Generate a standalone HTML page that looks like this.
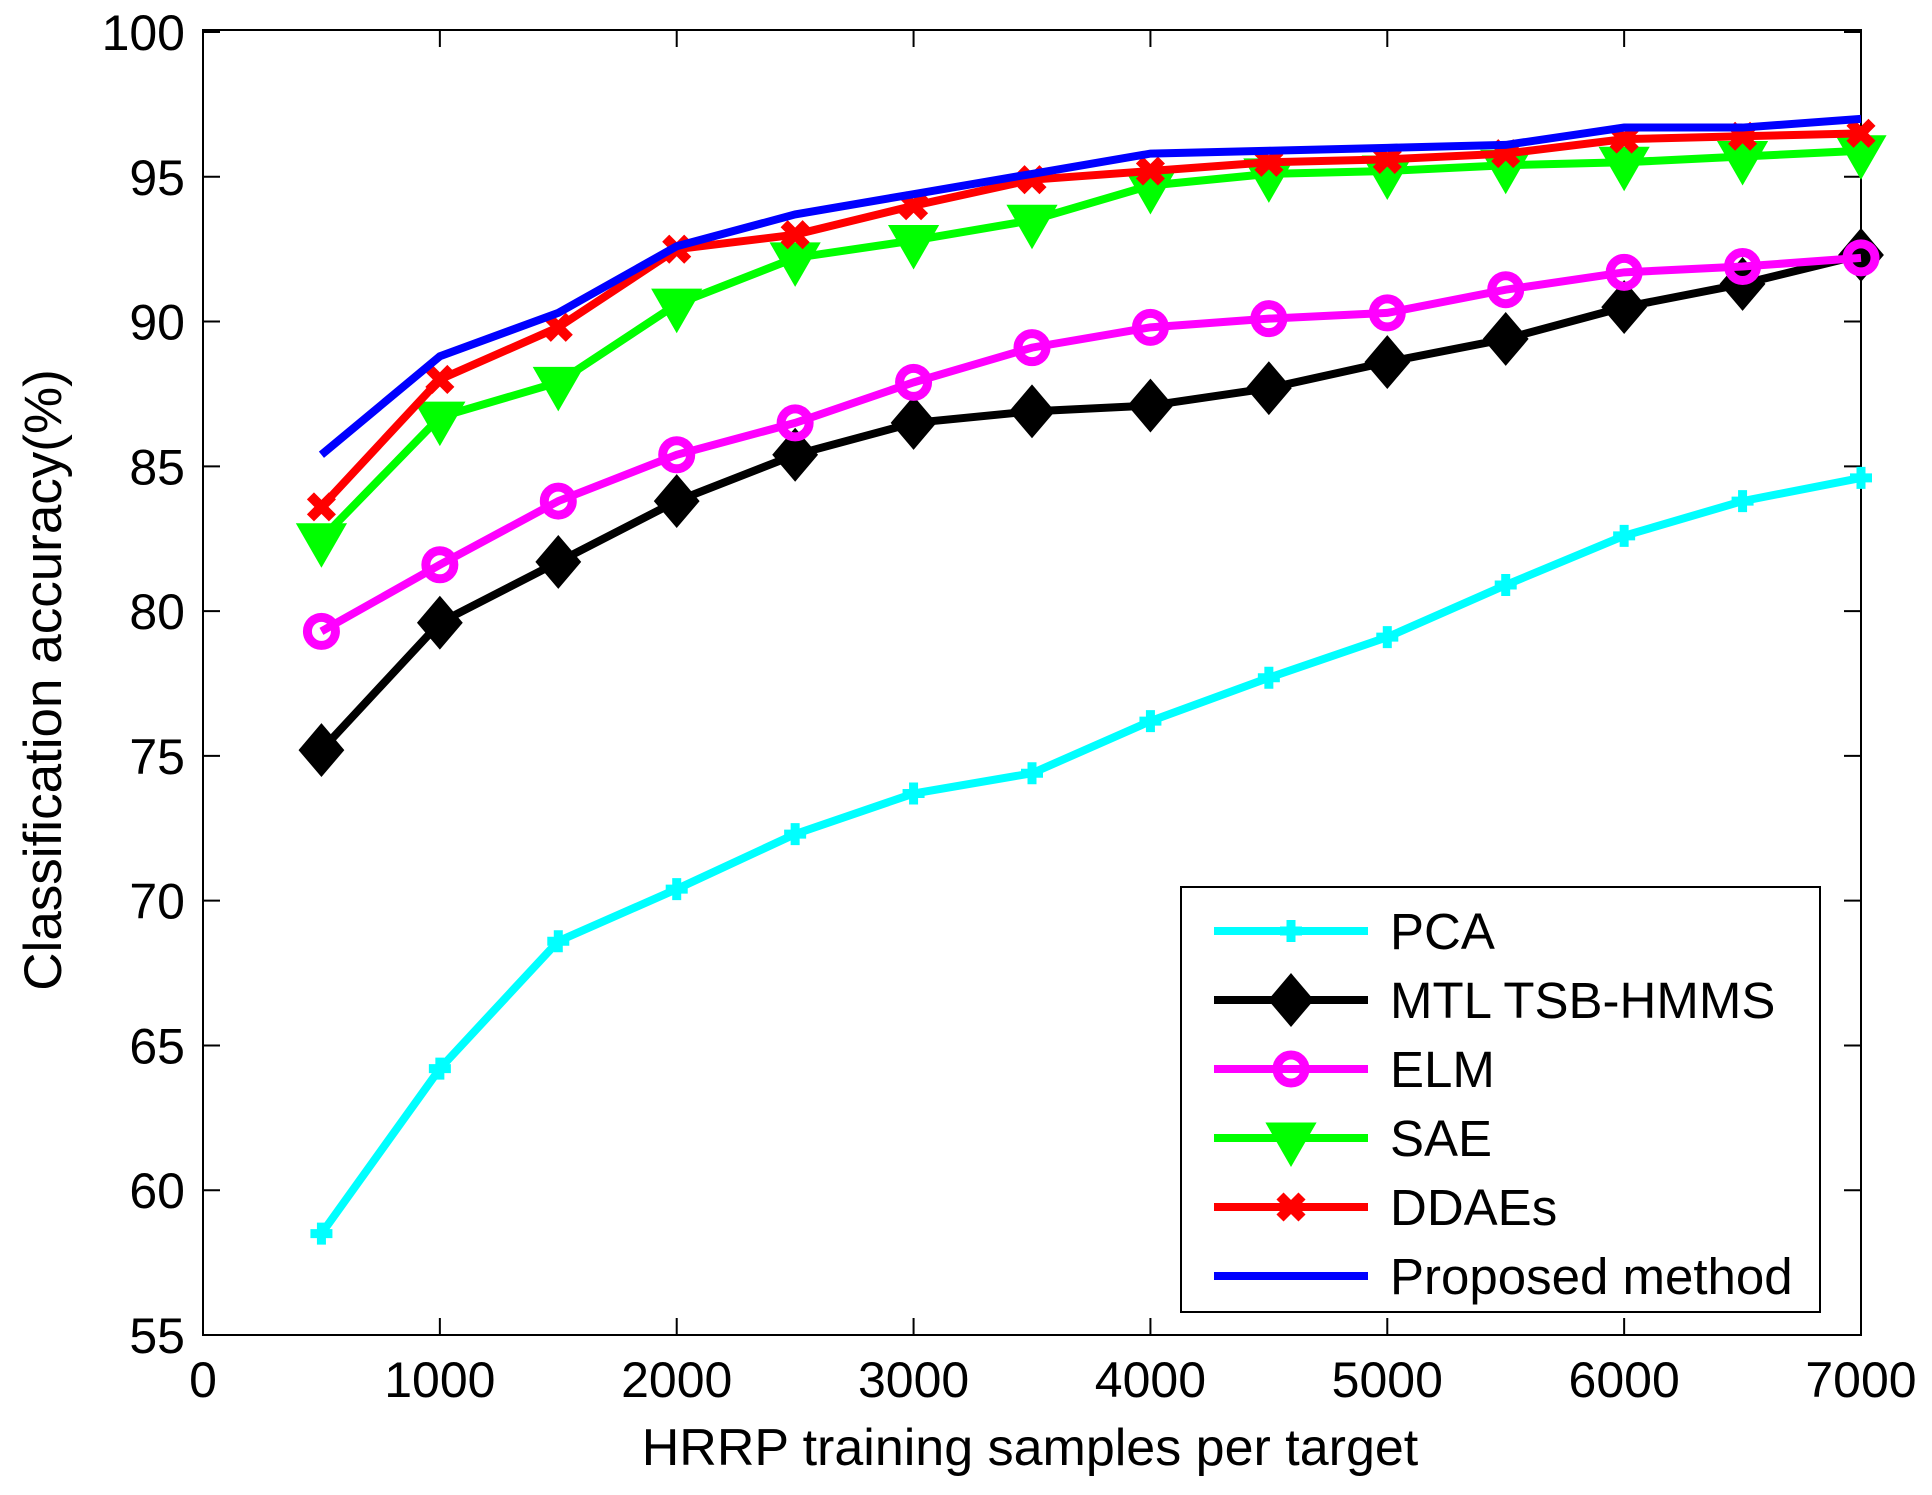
<!DOCTYPE html>
<html><head><meta charset="utf-8"><style>
html,body{margin:0;padding:0;background:#fff;}
svg{display:block;font-family:"Liberation Sans",Arial,sans-serif;}
</style></head><body>
<svg id="chart" width="1932" height="1495" viewBox="0 0 1932 1495">
<rect width="1932" height="1495" fill="#fff"/>
<g id="axes"></g>
<g id="series"></g>
<g id="legend"></g>
<text x="47" y="680" transform="rotate(-90 47 680)" text-anchor="middle" dominant-baseline="middle" font-size="53">Classification accuracy(%)</text>
<text x="1030" y="1465" text-anchor="middle" font-size="52">HRRP training samples per target</text>
</svg>
<script>
const xs = [500,1000,1500,2000,2500,3000,3500,4000,4500,5000,5500,6000,6500,7000];
const pca = [58.5,64.2,68.6,70.4,72.3,73.7,74.4,76.2,77.7,79.1,80.9,82.6,83.8,84.6];
const mtl = [75.2,79.6,81.7,83.8,85.4,86.5,86.9,87.1,87.7,88.6,89.4,90.5,91.3,92.3];
const elm = [79.3,81.6,83.8,85.4,86.5,87.9,89.1,89.8,90.1,90.3,91.1,91.7,91.9,92.2];
const sae = [82.5,86.7,87.9,90.6,92.2,92.8,93.5,94.7,95.1,95.2,95.4,95.5,95.7,95.9];
const ddae = [83.6,88.0,89.8,92.5,93.0,94.0,94.9,95.2,95.5,95.6,95.8,96.3,96.4,96.5];
const proposed = [85.4,88.8,90.3,92.6,93.7,94.4,95.1,95.8,95.9,96.0,96.1,96.7,96.7,97.0];
const xTicks = [0,1000,2000,3000,4000,5000,6000,7000];
const yTicks = [55,60,65,70,75,80,85,90,95,100];
const seriesNames = ["PCA","MTL TSB-HMMS","ELM","SAE","DDAEs","Proposed method"];

const NS="http://www.w3.org/2000/svg";
const L=203,R=1861,T=30,B=1335;
const Y0=1335,Y1=32;
function sx(v){return L+(v-0)/(7000-0)*(R-L);}
function sy(v){return Y0-(v-55)/(100-55)*(Y0-Y1);}
function mk(tag,attrs,parent){const e=document.createElementNS(NS,tag);for(const k in attrs)e.setAttribute(k,attrs[k]);parent.appendChild(e);return e;}
const axes=document.getElementById('axes');
const frame=mk('rect',{x:L,y:T,width:R-L,height:B-T,fill:'none',stroke:'#000','stroke-width':2},axes);


yTicks.forEach(v=>{
  const y=sy(v);
  mk('line',{x1:L,x2:L+17,y1:y,y2:y,stroke:'#000','stroke-width':2},axes);
  mk('line',{x1:R,x2:R-17,y1:y,y2:y,stroke:'#000','stroke-width':2},axes);
  const t=mk('text',{x:185,y:y+18,'text-anchor':'end','font-size':50},axes);
  t.textContent=v;
  
  
});
xTicks.forEach(v=>{
  const x=sx(v);
  mk('line',{x1:x,x2:x,y1:B,y2:B-17,stroke:'#000','stroke-width':2},axes);
  mk('line',{x1:x,x2:x,y1:T,y2:T+17,stroke:'#000','stroke-width':2},axes);
  const t=mk('text',{x:x,y:1397,'text-anchor':'middle','font-size':50},axes);
  t.textContent=v;
  
  
});

function marker(g,kind,color,x,y){
  if(kind==='plus'){
    mk('path',{d:`M${x-11},${y}H${x+11}M${x},${y-11}V${y+11}`,stroke:color,'stroke-width':9,fill:'none'},g);
  }else if(kind==='diamond'){
    mk('path',{d:`M${x},${y-20}L${x+17},${y}L${x},${y+20}L${x-17},${y}Z`,stroke:color,'stroke-width':9,fill:color},g);
  }else if(kind==='circle'){
    mk('circle',{cx:x,cy:y,r:14,stroke:color,'stroke-width':9,fill:'none'},g);
  }else if(kind==='tri'){
    mk('path',{d:`M${x-23},${y-14}L${x+23},${y-14}L${x},${y+26}Z`,stroke:color,'stroke-width':3,fill:color},g);
  }else if(kind==='x'){
    mk('path',{d:`M${x-11},${y-11}L${x+11},${y+11}M${x+11},${y-11}L${x-11},${y+11}`,stroke:color,'stroke-width':10,fill:'none'},g);
  }
}
const defs=[
  {data:pca,color:'#00ffff',m:'plus',name:'pca'},
  {data:mtl,color:'#000000',m:'diamond',name:'mtl-tsb-hmms'},
  {data:elm,color:'#ff00ff',m:'circle',name:'elm'},
  {data:sae,color:'#00ff00',m:'tri',name:'sae'},
  {data:ddae,color:'#ff0000',m:'x',name:'ddaes'},
  {data:proposed,color:'#0000ff',m:null,name:'proposed-method'}
];
const sg=document.getElementById('series');
defs.forEach(d=>{
  const g=mk('g',{},sg);
  
  
  const pts=xs.map((x,i)=>sx(x)+','+sy(d.data[i])).join(' ');
  mk('polyline',{points:pts,fill:'none',stroke:d.color,'stroke-width':8,'stroke-linejoin':'miter'},g);
  if(d.m) xs.forEach((x,i)=>marker(g,d.m,d.color,sx(x),sy(d.data[i])));
});
const lg=document.getElementById('legend');
const box=mk('rect',{x:1181,y:887,width:639,height:425,fill:'#fff',stroke:'#000','stroke-width':2},lg);


defs.forEach((d,i)=>{
  const y=931+i*69;
  const g=mk('g',{},lg);
  
  
  mk('line',{x1:1214,x2:1368,y1:y,y2:y,stroke:d.color,'stroke-width':8},g);
  if(d.m) marker(g,d.m,d.color,1291,y);
  const t=mk('text',{x:1390,y:y+18,'font-size':51},g);
  t.textContent=seriesNames[i];
});
</script>
</body></html>
